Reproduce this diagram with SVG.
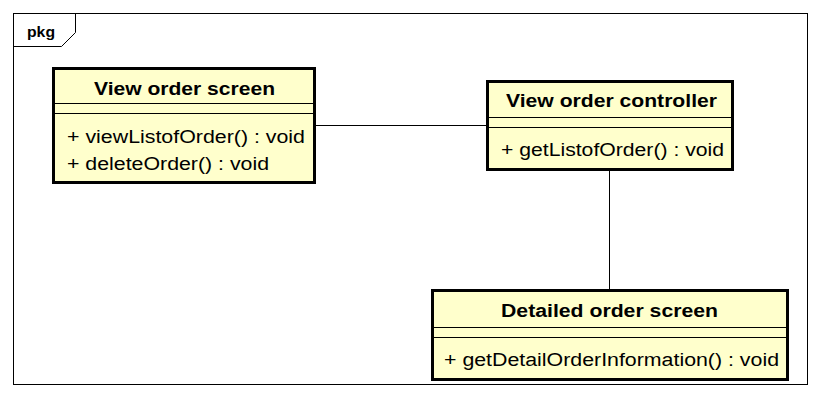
<svg xmlns="http://www.w3.org/2000/svg" width="821" height="400" viewBox="0 0 821 400">
<style>
.box{fill:#FFFFCC;stroke:#000;stroke-width:3}
.sep{stroke:#000;stroke-width:1}
.t{font-family:"Liberation Sans",Arial,sans-serif;font-size:18px;font-weight:bold;fill:#000}
.m{font-family:"Liberation Sans",Arial,sans-serif;font-size:18px;fill:#000}
.c{stroke:#000;stroke-width:1;fill:none}
</style>
<rect x="0" y="0" width="821" height="400" fill="#fff"/>
<g id="frame">
<rect x="13.5" y="13.5" width="794" height="371" fill="none" stroke="#000" stroke-width="1"/>
<path d="M13.5 46.5 H61.5 L75.5 32.5 V13.5" fill="none" stroke="#000" stroke-width="1"/>
<text x="27" y="37" textLength="28" lengthAdjust="spacingAndGlyphs" style="font-family:'Liberation Sans',Arial,sans-serif;font-size:15px;font-weight:bold">pkg</text>
</g>
<g id="connectors">
<line class="c" x1="315" y1="125.5" x2="487" y2="125.5"/>
<line class="c" x1="609.5" y1="170" x2="609.5" y2="290"/>
</g>
<g id="view-order-screen">
<rect class="box" x="53.5" y="68.5" width="261" height="114"/>
<text class="t" x="94" y="95" textLength="181" lengthAdjust="spacingAndGlyphs">View order screen</text>
<line class="sep" x1="53" y1="103.5" x2="315" y2="103.5"/>
<line class="sep" x1="53" y1="113.5" x2="315" y2="113.5"/>
<text class="m" x="67" y="143" textLength="238" lengthAdjust="spacingAndGlyphs">+ viewListofOrder() : void</text>
<text class="m" x="67" y="170" textLength="202" lengthAdjust="spacingAndGlyphs">+ deleteOrder() : void</text>
</g>
<g id="view-order-controller">
<rect class="box" x="487.5" y="81.5" width="245" height="88"/>
<text class="t" x="506" y="107" textLength="211" lengthAdjust="spacingAndGlyphs">View order controller</text>
<line class="sep" x1="487" y1="117.5" x2="733" y2="117.5"/>
<line class="sep" x1="487" y1="127.5" x2="733" y2="127.5"/>
<text class="m" x="501" y="156" textLength="223" lengthAdjust="spacingAndGlyphs">+ getListofOrder() : void</text>
</g>
<g id="detailed-order-screen">
<rect class="box" x="432.5" y="290.5" width="355" height="89"/>
<text class="t" x="501" y="317" textLength="217" lengthAdjust="spacingAndGlyphs">Detailed order screen</text>
<line class="sep" x1="432" y1="327.5" x2="788" y2="327.5"/>
<line class="sep" x1="432" y1="337.5" x2="788" y2="337.5"/>
<text class="m" x="444" y="366" textLength="335" lengthAdjust="spacingAndGlyphs">+ getDetailOrderInformation() : void</text>
</g>
</svg>
